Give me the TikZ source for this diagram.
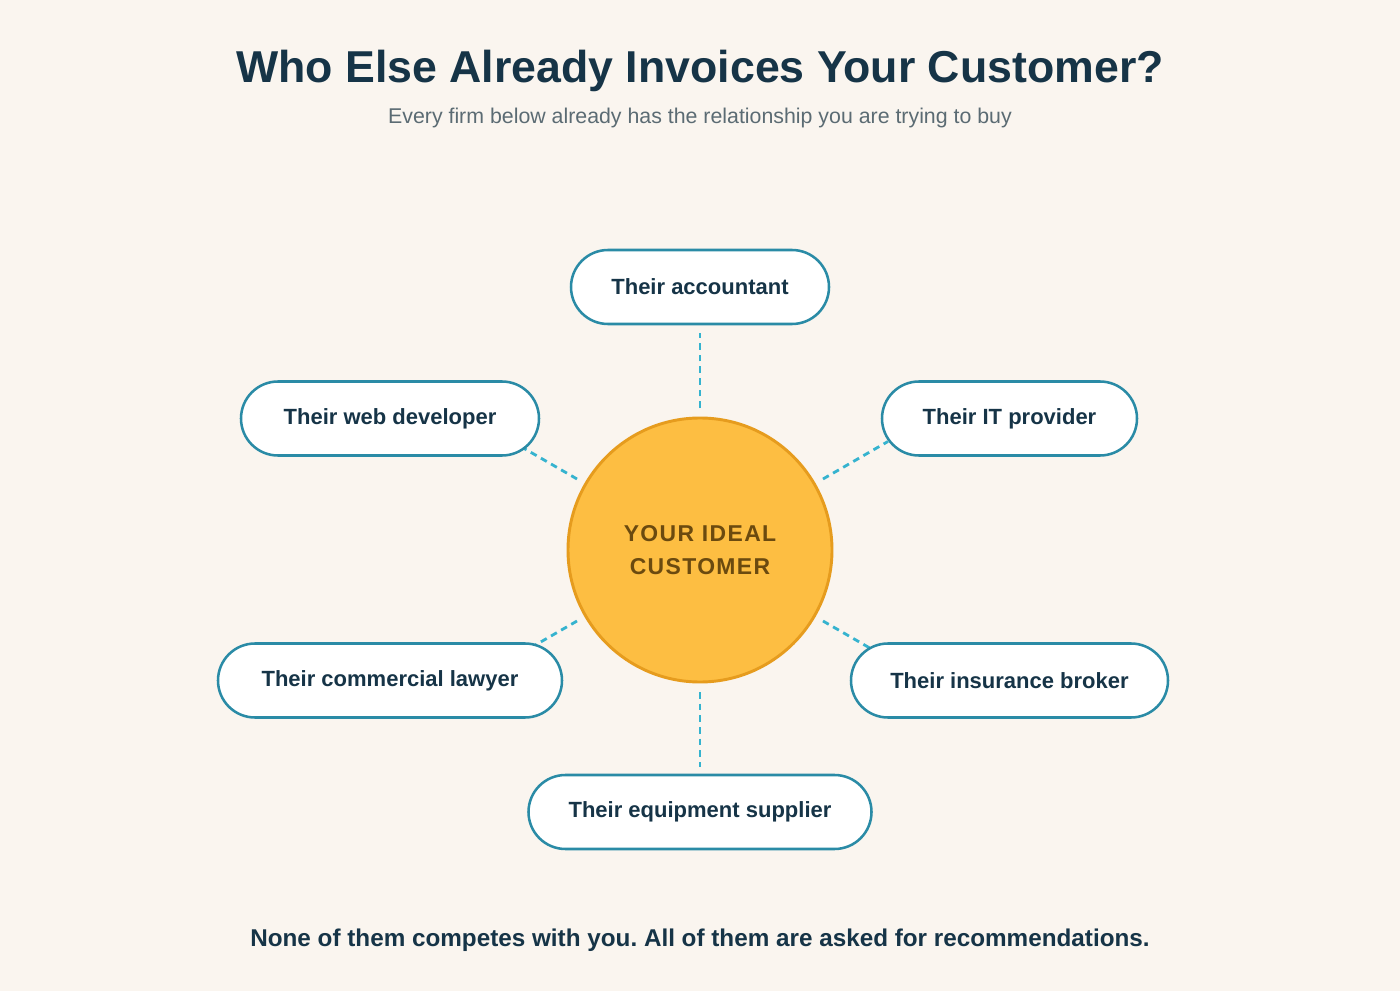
\documentclass[tikz,border=0pt]{standalone}
\usepackage{fontspec}
\setmainfont{Liberation Sans}
\newfontfamily\spacedfont[LetterSpace=6]{Liberation Sans}
\usetikzlibrary{calc}
\frenchspacing
\definecolor{bgc}{HTML}{FAF5EF}
\definecolor{navy}{HTML}{163447}
\definecolor{subgray}{HTML}{5B6B73}
\definecolor{pillc}{HTML}{2A8BA6}
\definecolor{dashc}{HTML}{35B3CF}
\definecolor{sunfill}{HTML}{FDBE42}
\definecolor{sundraw}{HTML}{E69C1E}
\definecolor{suntext}{HTML}{6B4A0F}
\tikzset{
  pill/.style={draw=pillc, fill=white, line width=1.9pt, rounded corners=27.75pt,
    minimum height=55.5pt, inner sep=0pt, text=navy,
    font=\fontsize{16.5}{20}\selectfont\bfseries},
  link/.style={draw=dashc, line width=2.1pt, dash pattern=on 5pt off 3.75pt},
  hub/.style={circle, draw=sundraw, fill=sunfill, line width=2.2pt, minimum size=198pt,
    inner sep=0pt, text=suntext, align=center,
    font=\fontsize{17.2}{24.75}\spacedfont\bfseries}
}
\begin{document}
\begin{tikzpicture}[x=0.75pt, y=-0.75pt]
\fill[bgc] (0,0) rectangle (1400,991);
\useasboundingbox (0,0) rectangle (1400,991);

\node[anchor=base, text=navy, font=\fontsize{33.5}{40}\selectfont\bfseries] (title) at (700,83) {Who Else Already Invoices Your Customer?};
\node[anchor=base, text=subgray, font=\fontsize{16}{19}\selectfont] (subtitle) at (700,124) {Every firm below already has the relationship you are trying to buy};

\coordinate (c) at (700,550);
\foreach \a/\n in {270/1, -30/2, 210/3, 150/4, 30/5, 90/6}{
  \coordinate (in\n) at ($(c)+(\a:142)$);
  \coordinate (out\n) at ($(c)+(\a:217)$);
  \draw[link] (in\n) -- (out\n);
}

\node[hub] (hub) at (c) {YOUR IDEAL\\CUSTOMER};

\node[pill, minimum width=193.5pt] (acc) at (700,287) {Their accountant};
\node[pill, minimum width=223.5pt] (web) at (390,418.5) {Their web developer};
\node[pill, minimum width=191.25pt] (it) at (1009.5,418.5) {Their IT provider};
\node[pill, minimum width=258pt] (law) at (390,680.5) {Their commercial lawyer};
\node[pill, minimum width=237.75pt] (ins) at (1009.5,680.5) {Their insurance broker};
\node[pill, minimum width=257.25pt] (equ) at (700,812) {Their equipment supplier};

\node[anchor=base, text=navy, font=\fontsize{18.2}{22}\selectfont\bfseries] (footer) at (700,946) {None of them competes with you. All of them are asked for recommendations.};
\end{tikzpicture}
\end{document}
